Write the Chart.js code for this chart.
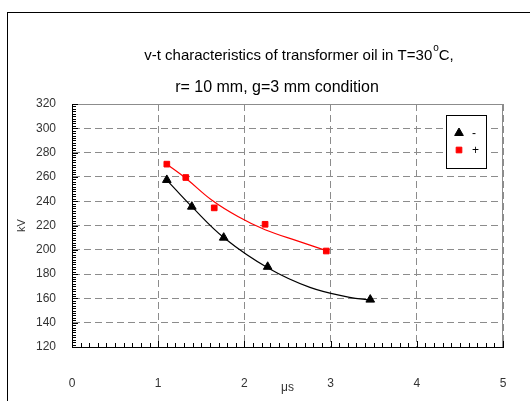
<!DOCTYPE html>
<html>
<head>
<meta charset="UTF-8">
<title>v-t characteristics</title>
<script src="https://cdn.jsdelivr.net/npm/chart.js"></script>
<style>
  body { margin: 0; background: #fff; overflow: hidden; }
  #wrap { position: relative; width: 530px; height: 401px; }
  #frame { position: absolute; left: 7px; top: 12px; width: 600px; height: 500px; border: 1px solid #000; }
  canvas { position: absolute; left: 0; top: 0; }
</style>
</head>
<body>
<div id="wrap">
  <div id="frame"></div>
  <canvas id="chart" width="530" height="401"></canvas>
</div>
<script>
// measured points
const negT = [1.10, 1.39, 1.76, 2.27, 3.46];
const negV = [257.5, 235.5, 210, 186, 159];
const posT = [1.10, 1.32, 1.65, 2.24, 2.95];
const posV = [270.5, 259.5, 234.5, 221, 199];

// trend curves
const negFitT = [1.10, 1.39, 1.77, 2.28, 2.76, 3.22, 3.46];
const negFitV = [257.4, 235.5, 209.5, 184.8, 169.1, 160.9, 158.7];
const posFitT = [1.10, 1.33, 1.62, 1.93, 2.24, 2.64, 2.95];
const posFitV = [270.4, 258.3, 241.0, 227.2, 216.5, 206.7, 199.3];

const xTicks = [0, 1, 2, 3, 4, 5];
const yTicks = [120, 140, 160, 180, 200, 220, 240, 260, 280, 300, 320];

const titleLine1 = 'v-t characteristics of transformer oil in T=30';
const titleSup = 'o';
const titleLine1End = 'C,';
const titleLine2 = 'r= 10 mm, g=3 mm condition';

const FONT = '"Liberation Sans", Arial, sans-serif';

const pts = (xs, ys) => xs.map((x, i) => ({ x: x, y: ys[i] }));

// title, frame borders, minor ticks and legend box
const decor = {
  id: 'decor',
  afterDraw(chart) {
    const ctx = chart.ctx;
    const a = chart.chartArea;
    const xs = chart.scales.x, ys = chart.scales.y;
    ctx.save();

    // top + right plot border (grey, solid)
    ctx.strokeStyle = '#8c8c8c';
    ctx.lineWidth = 1;
    ctx.beginPath();
    ctx.moveTo(a.left, a.top + 0.5);
    ctx.lineTo(a.right - 0.5, a.top + 0.5);
    ctx.lineTo(a.right - 0.5, a.bottom);
    ctx.stroke();

    // inward ticks
    ctx.strokeStyle = '#000';
    ctx.beginPath();
    for (let i = 0; i <= 50; i++) {
      const px = Math.round(xs.getPixelForValue(i / 10)) + 0.5;
      const len = i % 10 === 0 ? 6 : 4;
      ctx.moveTo(px, a.bottom);
      ctx.lineTo(px, a.bottom - len);
    }
    for (let i = 0; i <= 100; i++) {
      const py = Math.round(ys.getPixelForValue(120 + i * 2)) + 0.5;
      const len = i % 10 === 0 ? 6 : 4;
      ctx.moveTo(a.left, py);
      ctx.lineTo(a.left + len, py);
    }
    ctx.stroke();

    // title
    ctx.fillStyle = '#000';
    ctx.textBaseline = 'middle';
    ctx.font = '15px ' + FONT;
    const w1 = ctx.measureText(titleLine1).width;
    const w3 = ctx.measureText(titleLine1End).width;
    ctx.font = '10px ' + FONT;
    const w2 = ctx.measureText(titleSup).width + 1;
    let x0 = 299 - (w1 + w2 + w3) / 2;
    ctx.font = '15px ' + FONT;
    ctx.textAlign = 'left';
    ctx.fillText(titleLine1, x0, 56);
    ctx.font = '10px ' + FONT;
    ctx.fillText(titleSup, x0 + w1 + 1, 48);
    ctx.font = '15px ' + FONT;
    ctx.fillText(titleLine1End, x0 + w1 + w2, 56);
    ctx.font = '16px ' + FONT;
    ctx.textAlign = 'center';
    ctx.fillText(titleLine2, 277, 88);

    // legend
    const lx = a.right - 57, ly = a.top + 11, lw = 40, lh = 53;
    ctx.fillStyle = '#fff';
    ctx.fillRect(lx, ly, lw, lh);
    ctx.strokeStyle = '#000';
    ctx.strokeRect(lx + 0.5, ly + 0.5, lw, lh);
    const items = [chart.data.datasets[0], chart.data.datasets[1]];
    items.forEach((ds, i) => {
      const cy = ly + 18 + i * 17;
      ctx.fillStyle = ds.backgroundColor;
      ctx.strokeStyle = ds.borderColor;
      Chart.helpers.drawPoint(ctx, {
        pointStyle: ds.pointStyle, radius: ds.pointRadius, rotation: 0, borderWidth: 1
      }, lx + 13, cy);
      ctx.fillStyle = '#000';
      ctx.font = '12px ' + FONT;
      ctx.textAlign = 'left';
      ctx.fillText(ds.label, lx + 26, cy + 1);
    });
    ctx.restore();
  }
};

new Chart(document.getElementById('chart'), {
  type: 'scatter',
  data: {
    datasets: [
      { label: '-', data: pts(negT, negV), pointStyle: 'triangle', pointRadius: 5,
        backgroundColor: '#000', borderColor: '#000', borderWidth: 1, showLine: false, order: 0 },
      { label: '+', data: pts(posT, posV), pointStyle: 'rect', pointRadius: 4,
        backgroundColor: '#ff0000', borderColor: '#ff0000', borderWidth: 1, showLine: false, order: 0 },
      { label: 'fit -', data: pts(negFitT, negFitV), showLine: true, pointRadius: 0,
        borderColor: '#000', borderWidth: 1.2, tension: 0.4, order: 1 },
      { label: 'fit +', data: pts(posFitT, posFitV), showLine: true, pointRadius: 0,
        borderColor: '#ff0000', borderWidth: 1.2, tension: 0.4, order: 1 }
    ]
  },
  options: {
    responsive: false,
    animation: false,
    layout: { padding: { left: 0, right: 27, top: 104, bottom: 0 } },
    plugins: { legend: { display: false }, title: { display: false }, tooltip: { enabled: false } },
    scales: {
      x: {
        type: 'linear', min: 0, max: 5,
        afterBuildTicks: s => { s.ticks = xTicks.map(v => ({ value: v })); },
        afterFit: s => { s.height = 54; s.paddingLeft = 0; s.paddingRight = 0; },
        grid: { color: '#8c8c8c', drawTicks: false, lineWidth: 1 },
        border: { color: '#000', width: 1, dash: [7, 4] },
        ticks: { padding: 29, color: '#333', font: { family: FONT, size: 12 } },
        title: { display: true, text: 'μs', color: '#333', font: { family: FONT, size: 12 }, padding: { top: 0, bottom: 6 } }
      },
      y: {
        type: 'linear', min: 120, max: 320,
        afterBuildTicks: s => { s.ticks = yTicks.map(v => ({ value: v })); },
        afterFit: s => { s.width = 72; s.paddingTop = 0; s.paddingBottom = 0; },
        grid: { color: '#8c8c8c', drawTicks: false, lineWidth: 1 },
        border: { color: '#000', width: 1, dash: [7, 4] },
        ticks: { padding: 16, color: '#333', font: { family: FONT, size: 12 } },
        title: { display: true, text: 'kV', color: '#333', font: { family: FONT, size: 11 }, padding: { top: 15, bottom: 0 } }
      }
    }
  },
  plugins: [decor]
});
</script>
</body>
</html>
